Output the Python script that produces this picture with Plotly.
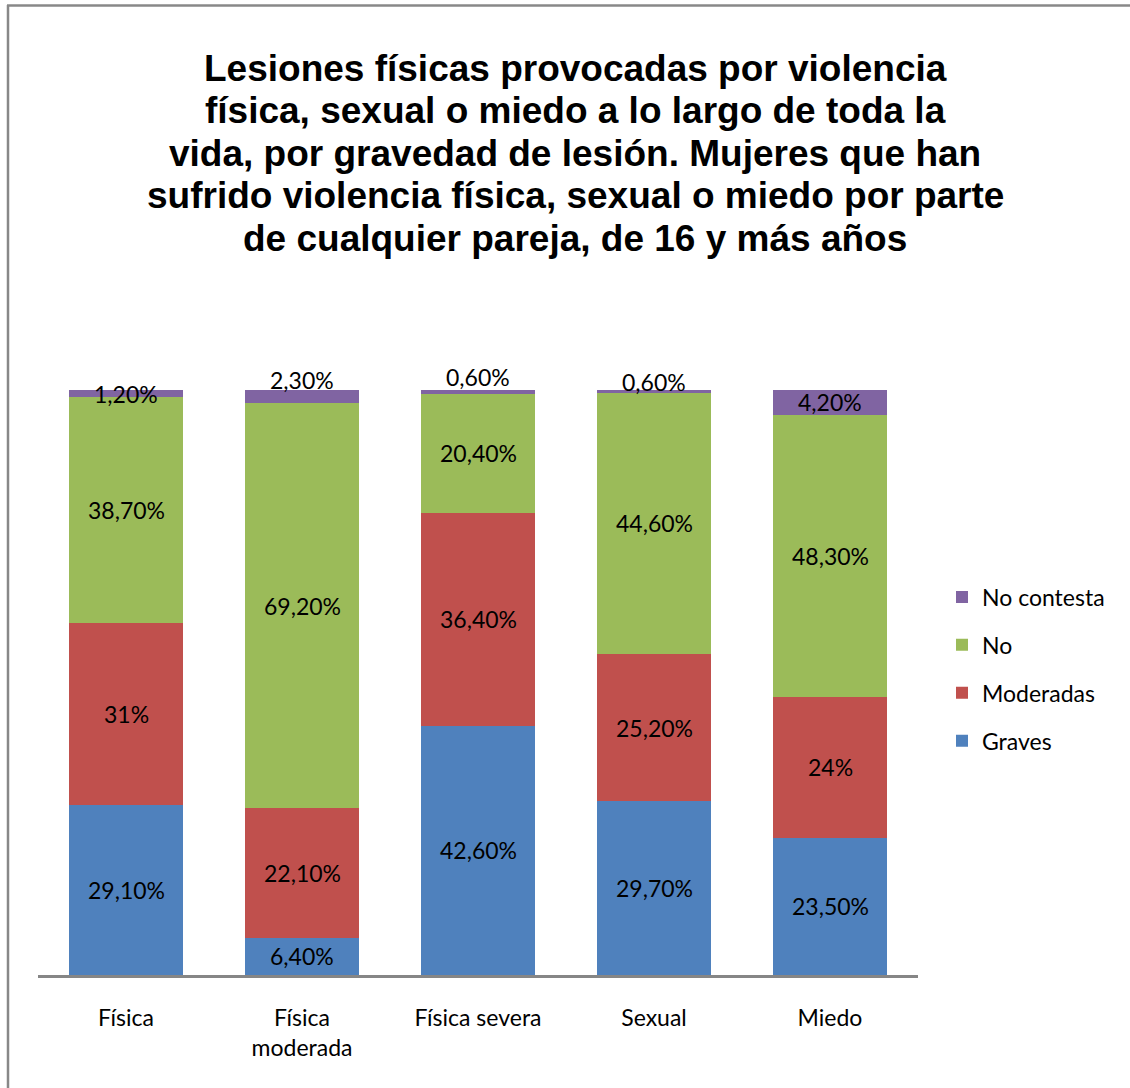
import plotly.graph_objects as go

categories = ["Física", "Física<br>moderada", "Física severa", "Sexual", "Miedo"]
graves = [29.1, 6.4, 42.6, 29.7, 23.5]
moderadas = [31.0, 22.1, 36.4, 25.2, 24.0]
no = [38.7, 69.2, 20.4, 44.6, 48.3]
no_contesta = [1.2, 2.3, 0.6, 0.6, 4.2]
label_graves = ["29,10%", "6,40%", "42,60%", "29,70%", "23,50%"]
label_moderadas = ["31%", "22,10%", "36,40%", "25,20%", "24%"]
label_no = ["38,70%", "69,20%", "20,40%", "44,60%", "48,30%"]
label_nc = ["1,20%", "2,30%", "0,60%", "0,60%", "4,20%"]
title_lines = [
    "Lesiones físicas provocadas por violencia",
    "física, sexual o miedo a lo largo de toda la",
    "vida, por gravedad de lesión. Mujeres que han",
    "sufrido violencia física, sexual o miedo por parte",
    "de cualquier pareja, de 16 y más años",
]

series = [
    ("Graves", graves, label_graves, "#4F81BD"),
    ("Moderadas", moderadas, label_moderadas, "#C0504D"),
    ("No", no, label_no, "#9BBB59"),
    ("No contesta", no_contesta, label_nc, "#8064A2"),
]
# vertical pixel nudges for the tiny top labels (style only)
nc_shift = [0, 17, 15, 9, 0]

W, H = 1130, 1088
L, R, T, B = 38, 212, 390, 113
PW, PH = W - L - R, H - T - B


def px_x(px):
    return (px - L) / PW


def px_y(py):
    return (H - B - py) / PH


FONT = "Lato"
FS = 23
fig = go.Figure()
base = [0.0] * len(categories)
annotations = []
for rank, (name, vals, labels, color) in enumerate(series):
    fig.add_trace(go.Bar(x=categories, y=vals, name=name, legendgroup=name,
                         legendrank=1000 - rank,
                         marker=dict(color=color, line=dict(width=0))))
    for i, (v, lab) in enumerate(zip(vals, labels)):
        shift = nc_shift[i] if name == "No contesta" else 0
        annotations.append(dict(x=categories[i], y=base[i] + v / 2, text=lab, showarrow=False,
                                xref="x", yref="y", yshift=shift,
                                font=dict(family=FONT, size=FS, color="#000000")))
        base[i] += v

for k, line in enumerate(title_lines):
    annotations.append(dict(x=px_x(575), y=px_y(68 + 42.5 * k), xref="paper", yref="paper",
                            text=line, showarrow=False, xanchor="center", yanchor="middle",
                            font=dict(family="Liberation Sans", size=37, color="#000000", weight="bold")))

fig.update_layout(
    width=W, height=H,
    barmode="stack", bargap=0.352,
    paper_bgcolor="white", plot_bgcolor="white",
    margin=dict(l=L, r=R, t=T, b=B),
    xaxis=dict(showline=True, linecolor="#868686", linewidth=2.5, ticks="", showgrid=False,
               tickfont=dict(family=FONT, size=FS, color="#000000"), ticklabelstandoff=21),
    yaxis=dict(range=[0, 100], visible=False, showgrid=False),
    legend=dict(x=px_x(942), xanchor="left", y=px_y(669), yanchor="middle",
                traceorder="grouped", font=dict(family=FONT, size=FS, color="#000000"),
                itemwidth=30, tracegroupgap=15, bgcolor="rgba(0,0,0,0)"),
    annotations=annotations,
    shapes=[
        dict(type="line", xref="paper", yref="paper", x0=px_x(7), x1=px_x(1140),
             y0=px_y(5.5), y1=px_y(5.5), line=dict(color="#888888", width=2.5)),
        dict(type="line", xref="paper", yref="paper", x0=px_x(8), x1=px_x(8),
             y0=px_y(5), y1=px_y(1100), line=dict(color="#888888", width=2.5)),
    ],
)
fig.write_html("out.html", config={"displayModeBar": False},
               post_script="document.body.style.margin='0';document.body.style.overflow='hidden';")
